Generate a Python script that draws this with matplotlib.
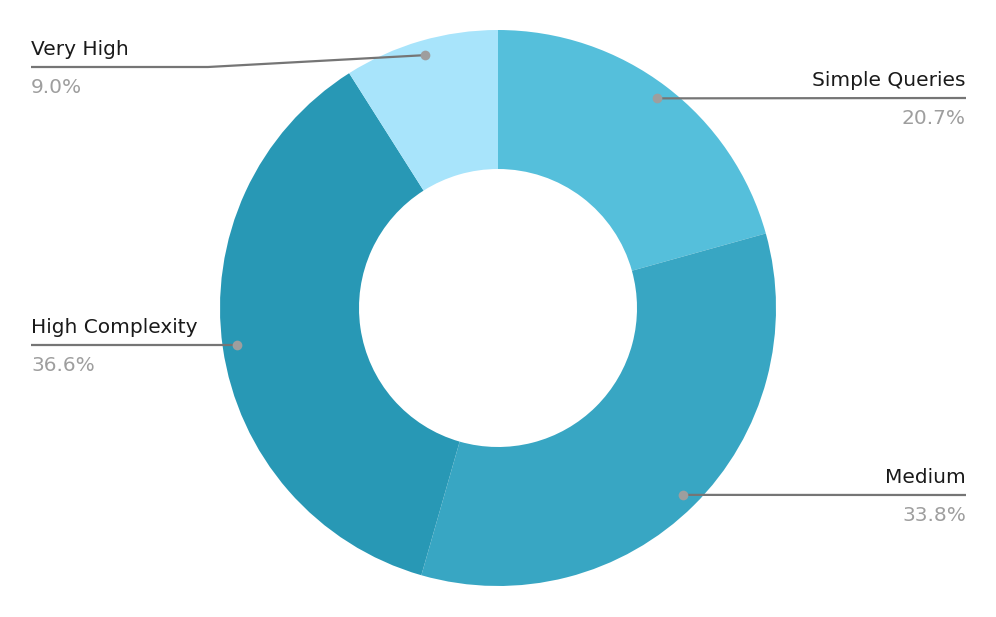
import numpy as np
import matplotlib.pyplot as plt

# Data
labels = ['Simple Queries', 'Medium', 'High Complexity', 'Very High']
shares = [20.7, 33.8, 36.6, 9.0]
colors = ['#55bfdb', '#38a6c3', '#2898b5', '#a8e4fb']

W, H = 996, 617
fig = plt.figure(figsize=(W / 100, H / 100), dpi=100)
ax = fig.add_axes([0, 0, 1, 1])

cx, cy = 498, H - 308
R = 278
ax.pie(shares, colors=colors, startangle=90, counterclock=False,
       center=(cx, cy), radius=R, frame=True,
       wedgeprops=dict(width=R / 2, linewidth=0))
ax.set_xlim(0, W)
ax.set_ylim(0, H)
ax.set_aspect('equal')
ax.axis('off')

# label placement: side and line y (in pixels from top)
sides = ['right', 'right', 'left', 'left']
line_y = [98, 495, 345, 67]
x_left, x_right = 31, 966

fracs = np.array(shares) / sum(shares)
cum = np.cumsum(fracs) - fracs / 2
r_dot = 0.947 * R
for lab, sh, mid, side, ly in zip(labels, shares, cum, sides, line_y):
    ang = np.deg2rad(90 - mid * 360)
    dx, dy = cx + r_dot * np.cos(ang), cy + r_dot * np.sin(ang)
    yl = H - ly
    if side == 'right':
        xs, ys = [dx, x_right], [dy, yl]
        tx, ha = x_right, 'right'
    else:
        if abs(dy - yl) > 3:
            xs, ys = [dx, 208, x_left], [dy, yl, yl]
        else:
            xs, ys = [dx, x_left], [yl, yl]
        tx, ha = x_left, 'left'
    ax.plot(xs, ys, color='#757575', lw=1.6, solid_capstyle='butt', zorder=3)
    ax.plot(dx, dy, 'o', color='#9e9e9e', ms=7, mec='none', zorder=4)
    ax.text(tx, yl + 8, lab, ha=ha, va='bottom', fontsize=14.5, color='#1a1a1a')
    ax.text(tx, yl - 11, f'{sh:.1f}%', ha=ha, va='top', fontsize=14.5, color='#9e9e9e')

plt.savefig('out.png', dpi=100)
